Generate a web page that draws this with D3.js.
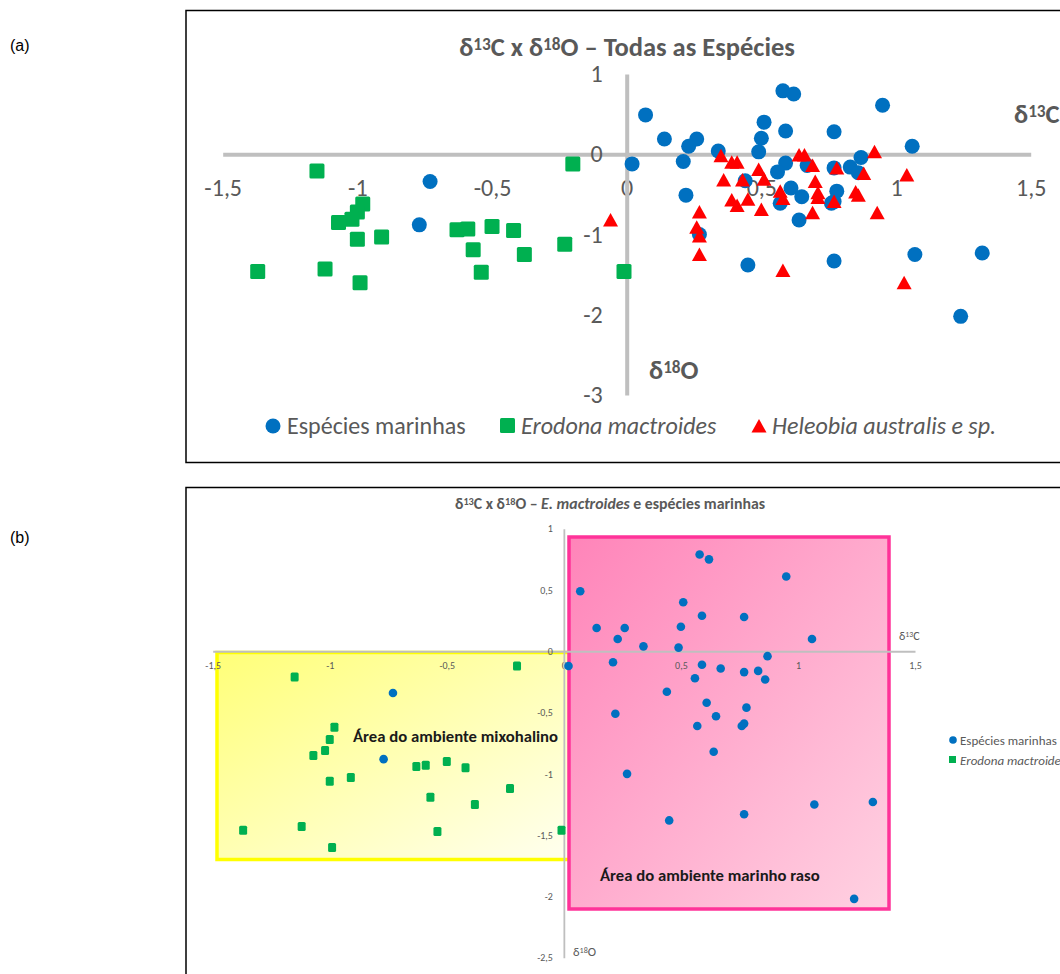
<!DOCTYPE html>
<html>
<head>
<meta charset="utf-8">
<script src="https://d3js.org/d3.v7.min.js"></script>
<style>
body { margin: 0; background: #fff; }
svg text { font-family: Carlito, Lato, sans-serif; }
</style>
</head>
<body>
<div id="chart"></div>
<script>
// δ13C (x) and δ18O (y) values
const marinhasC13 = [0.07, 0.58, 0.62, 0.95, 0.51, 0.59, 0.77, 0.14, 0.26, 0.50, 0.23, 1.06, 0.34, 0.49, 0.02, 0.21, 0.59, 0.67, 0.77, 0.83,
                     0.87, 0.86, 0.56, 0.44, 0.61, 0.78, 0.65, 0.22, 0.57, 0.76, 0.77, -0.73, -0.77, 0.27, 0.64, 0.45, 0.77, 1.07, 1.32, 1.24];
const marinhasO18 = [0.49, 0.79, 0.75, 0.61, 0.40, 0.29, 0.28, 0.19, 0.19, 0.20, 0.10, 0.10, 0.04, 0.03, -0.12, -0.09, -0.11, -0.14, -0.17, -0.16,
                     -0.04, -0.23, -0.22, -0.33, -0.42, -0.46, -0.53, -0.51, -0.61, -0.61, -0.59, -0.34, -0.88, -1.00, -0.82, -1.38, -1.33, -1.25, -1.23, -2.02];

const erodonaC13 = [-1.15, -0.20, -0.98, -1.00, -1.02, -1.07, -1.00, -0.91, -0.63, -0.59, -0.50, -0.42, -0.23, -0.57, -0.38, -1.37, -1.12, -0.54, -0.99, -0.01];
const erodonaO18 = [-0.21, -0.12, -0.62, -0.72, -0.81, -0.85, -1.06, -1.03, -0.94, -0.93, -0.90, -0.95, -1.12, -1.19, -1.25, -1.46, -1.43, -1.47, -1.60, -1.46];

const heleobiaC13 = [-0.06, 0.27, 0.26, 0.27, 0.27, 0.35, 0.39, 0.41, 0.36, 0.43, 0.39, 0.41, 0.45, 0.49, 0.51, 0.50, 0.57, 0.58, 0.58, 0.64,
                     0.66, 0.69, 0.70, 0.71, 0.71, 0.69, 0.78, 0.77, 0.85, 0.86, 0.88, 0.92, 0.93, 1.04, 1.03];
const heleobiaO18 = [-0.82, -0.72, -0.91, -1.02, -1.25, -0.02, -0.10, -0.10, -0.32, -0.32, -0.57, -0.64, -0.56, -0.19, -0.31, -0.69, -0.46, -0.55, -1.45, -0.01,
                     -0.01, -0.14, -0.34, -0.48, -0.54, -0.73, -0.17, -0.59, -0.47, -0.51, -0.24, 0.03, -0.73, -0.26, -1.60];

const ticksXA = [-1.5, -1, -0.5, 0, 0.5, 1, 1.5];
const ticksYA = [1, 0, -1, -2, -3];
const ticksXB = [-1.5, -1, -0.5, 0, 0.5, 1, 1.5];
const ticksYB = [1, 0.5, 0, -0.5, -1, -1.5, -2, -2.5];

const zip = (xs, ys) => xs.map((x, i) => [x, ys[i]]);
const marinhas = zip(marinhasC13, marinhasO18);
const erodona = zip(erodonaC13, erodonaO18);
const heleobia = zip(heleobiaC13, heleobiaO18);

const fmt = d => String(d).replace('.', ',');
const grey = '#595959';
const blue = '#0070c0', green = '#00b050', red = '#ff0000';
const tri = 'M0,-7L7.5,6.5L-7.5,6.5Z';

const svg = d3.select('#chart').append('svg')
    .attr('width', 1060).attr('height', 974);
svg.append('rect').attr('width', 1060).attr('height', 974).attr('fill', '#fff');

// text with superscripts: parts = [[text, sup?, italic?], ...]
function richText(g, x, y, parts, size, weight, anchor) {
    const t = g.append('text').attr('x', x).attr('y', y)
        .attr('font-size', size).attr('font-weight', weight)
        .attr('fill', grey).attr('text-anchor', anchor || 'start');
    parts.forEach(p => {
        const s = t.append('tspan').text(p[0]);
        if (p[1]) s.attr('font-size', size * 0.65).attr('baseline-shift', '38%');
        if (p[2]) s.attr('font-style', 'italic');
    });
    return t;
}

svg.append('text').attr('x', 10).attr('y', 51).text('(a)')
    .style('font-family', 'Liberation Sans, Arial').attr('font-size', 16);
svg.append('text').attr('x', 10).attr('y', 543).text('(b)')
    .style('font-family', 'Liberation Sans, Arial').attr('font-size', 16);

// ---------- panel (a) ----------
const gA = svg.append('g');
gA.append('rect').attr('x', 186).attr('y', 10.5).attr('width', 900).attr('height', 452)
    .attr('fill', '#fff').attr('stroke', '#000').attr('stroke-width', 1.5);

const xA = d3.scaleLinear().domain([-1.5, 1.5]).range([222.7, 1030.7]);
const yA = d3.scaleLinear().domain([-3, 1]).range([395, 74]);

const axXA = gA.append('g').attr('transform', `translate(0,${yA(0)})`)
    .call(d3.axisBottom(xA).tickValues(ticksXA).tickFormat(fmt).tickSize(0).tickSizeOuter(0).tickPadding(25));
const axYA = gA.append('g').attr('transform', `translate(${xA(0)},0)`)
    .call(d3.axisLeft(yA).tickValues(ticksYA).tickFormat(fmt).tickSize(0).tickSizeOuter(0).tickPadding(24));
[axXA, axYA].forEach(a => {
    a.select('.domain').attr('stroke', '#bfbfbf').attr('stroke-width', 4);
    a.selectAll('text').attr('fill', grey).attr('font-size', 24).style('font-family', 'Carlito, Lato, sans-serif');
});

richText(gA, 627, 56, [['δ'], ['13', 1], ['C x δ'], ['18', 1], ['O – Todas as Espécies']], 26.5, 'bold', 'middle');
richText(gA, 1014, 123, [['δ'], ['13', 1], ['C']], 26.5, 'bold');
richText(gA, 649, 379, [['δ'], ['18', 1], ['O']], 26.5, 'bold');

gA.append('g').selectAll('circle').data(marinhas).join('circle')
    .attr('cx', d => xA(d[0])).attr('cy', d => yA(d[1])).attr('r', 7.5).attr('fill', blue);
gA.append('g').selectAll('rect').data(erodona).join('rect')
    .attr('x', d => xA(d[0]) - 7.5).attr('y', d => yA(d[1]) - 7.5)
    .attr('width', 15).attr('height', 15).attr('rx', 1.5).attr('fill', green);
gA.append('g').selectAll('path').data(heleobia).join('path')
    .attr('transform', d => `translate(${xA(d[0])},${yA(d[1])})`).attr('d', tri).attr('fill', red);

// legend (a)
const legA = gA.append('g');
legA.append('circle').attr('cx', 273).attr('cy', 426).attr('r', 7.5).attr('fill', blue);
richText(legA, 287, 434, [['Espécies marinhas']], 24, 'normal');
legA.append('rect').attr('x', 500).attr('y', 418).attr('width', 15).attr('height', 15).attr('rx', 1.5).attr('fill', green);
richText(legA, 521, 434, [['Erodona mactroides', 0, 1]], 24, 'normal');
legA.append('path').attr('transform', 'translate(759,426)').attr('d', tri).attr('fill', red);
richText(legA, 772, 434, [['Heleobia australis e sp.', 0, 1]], 24, 'normal');

// ---------- panel (b) ----------
const gB = svg.append('g');
gB.append('rect').attr('x', 186).attr('y', 487.5).attr('width', 900).attr('height', 500)
    .attr('fill', '#fff').attr('stroke', '#000').attr('stroke-width', 1.5);

const xB = d3.scaleLinear().domain([-1.5, 1.5]).range([212.7, 915]);
const yB = d3.scaleLinear().domain([-2.5, 1]).range([957.7, 528.7]);

const defs = svg.append('defs');
const gradY = defs.append('linearGradient').attr('id', 'gy')
    .attr('x1', 0).attr('y1', 0).attr('x2', 1).attr('y2', 1);
gradY.append('stop').attr('offset', 0).attr('stop-color', '#ffff78');
gradY.append('stop').attr('offset', 1).attr('stop-color', '#fffff0');
const gradP = defs.append('linearGradient').attr('id', 'gp')
    .attr('x1', 0).attr('y1', 0).attr('x2', 1).attr('y2', 1);
gradP.append('stop').attr('offset', 0).attr('stop-color', '#ff84b9');
gradP.append('stop').attr('offset', 1).attr('stop-color', '#ffd2e2');

gB.append('rect').attr('x', 217).attr('y', 652.5).attr('width', 353).attr('height', 207)
    .attr('fill', 'url(#gy)').attr('stroke', '#ffff00').attr('stroke-width', 3.5);
gB.append('rect').attr('x', 569).attr('y', 537).attr('width', 320).attr('height', 372)
    .attr('fill', 'url(#gp)').attr('stroke', '#ff3399').attr('stroke-width', 3.5);

const axXB = gB.append('g').attr('transform', `translate(0,${yB(0)})`)
    .call(d3.axisBottom(xB).tickValues(ticksXB).tickFormat(fmt).tickSize(0).tickSizeOuter(0).tickPadding(11));
const axYB = gB.append('g').attr('transform', `translate(${xB(0)},0)`)
    .call(d3.axisLeft(yB).tickValues(ticksYB).tickFormat(fmt).tickSize(0).tickSizeOuter(0).tickPadding(11));
[axXB, axYB].forEach(a => {
    a.select('.domain').attr('stroke', '#bfbfbf').attr('stroke-width', 1.8);
    a.selectAll('text').attr('fill', grey).attr('font-size', 10).style('font-family', 'Carlito, Lato, sans-serif');
});

richText(gB, 610, 509, [['δ'], ['13', 1], ['C x δ'], ['18', 1], ['O – '], ['E. mactroides', 0, 1], [' e espécies marinhas']], 15.8, 'bold', 'middle');
richText(gB, 899, 640, [['δ'], ['13', 1], ['C']], 12, 'normal');
richText(gB, 573, 956, [['δ'], ['18', 1], ['O']], 12.5, 'normal');

gB.append('text').attr('x', 353).attr('y', 742).text('Área do ambiente mixohalino')
    .attr('font-size', 16.7).attr('font-weight', 'bold').attr('fill', '#1a1a1a');
gB.append('text').attr('x', 600).attr('y', 881).text('Área do ambiente marinho raso')
    .attr('font-size', 16.7).attr('font-weight', 'bold').attr('fill', '#1a1a1a');

gB.append('g').selectAll('circle').data(marinhas).join('circle')
    .attr('cx', d => xB(d[0])).attr('cy', d => yB(d[1])).attr('r', 4.3).attr('fill', blue);
gB.append('g').selectAll('rect').data(erodona).join('rect')
    .attr('x', d => xB(d[0]) - 4).attr('y', d => yB(d[1]) - 4.5)
    .attr('width', 8).attr('height', 9).attr('rx', 1.5).attr('fill', green);

// legend (b)
const legB = gB.append('g');
legB.append('circle').attr('cx', 953).attr('cy', 740).attr('r', 3.8).attr('fill', blue);
richText(legB, 960, 744.5, [['Espécies marinhas']], 13, 'normal');
legB.append('rect').attr('x', 949).attr('y', 756).attr('width', 7).attr('height', 7).attr('fill', green);
richText(legB, 960, 764.5, [['Erodona mactroides', 0, 1]], 13, 'normal');
</script>
</body>
</html>
